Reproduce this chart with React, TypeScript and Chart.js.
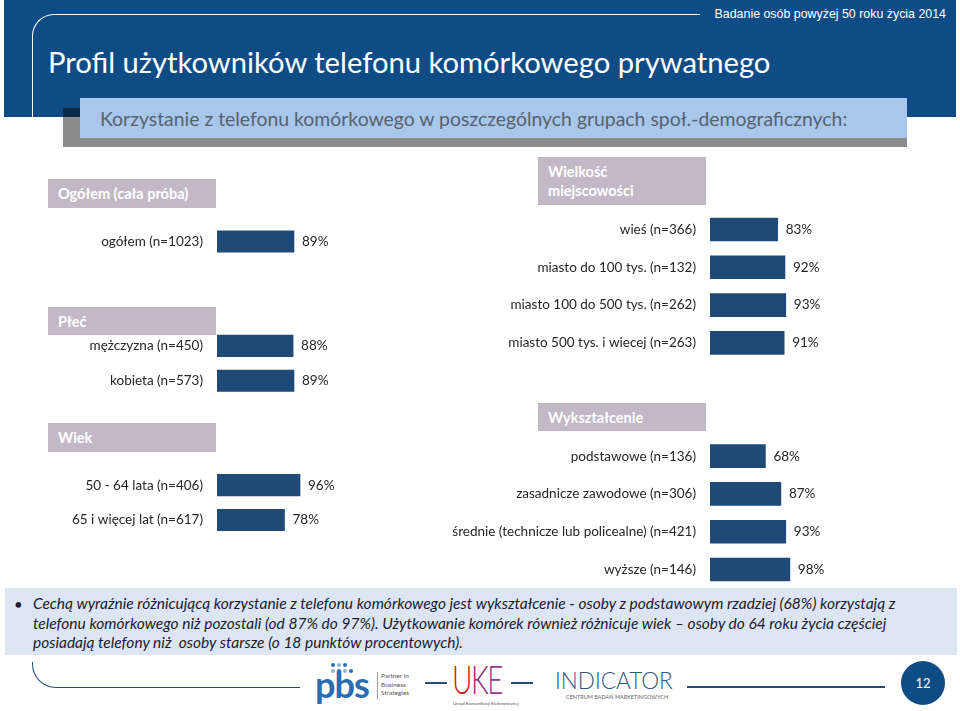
import React, { useEffect, useRef } from 'react';
import { Chart, registerables } from 'chart.js';

Chart.register(...registerables);

// ---- data ----
const totalLabels = ['ogółem (n=1023)'];
const totalValues = [89];
const genderLabels = ['mężczyzna (n=450)', 'kobieta (n=573)'];
const genderValues = [88, 89];
const ageLabels = ['50 - 64 lata (n=406)', '65 i więcej lat (n=617)'];
const ageValues = [96, 78];
const townLabels = [
  'wieś (n=366)',
  'miasto do 100 tys. (n=132)',
  'miasto 100 do 500 tys. (n=262)',
  'miasto 500 tys. i wiecej (n=263)',
];
const townValues = [83, 92, 93, 91];
const eduLabels = [
  'podstawowe (n=136)',
  'zasadnicze zawodowe (n=306)',
  'średnie (technicze lub policealne) (n=421)',
  'wyższe (n=146)',
];
const eduValues = [68, 87, 93, 98];
const axisMin = 0;
const axisMax = 100;

// ---- styles ----
const BAR = '#1f4a78';
const GRAY = '#c1bac6';
const HEAD_BLUE = '#0f4c86';
const LINE_BLUE = '#1f4e79';
const FONT = 'Lato, "Open Sans", sans-serif';

function withGaps(groups: [string[], number[]][], gap: number) {
  const labels: string[] = [];
  const values: (number | null)[] = [];
  groups.forEach(([l, v], gi) => {
    if (gi > 0) for (let k = 0; k < gap; k++) { labels.push(''); values.push(null); }
    l.forEach((t, i) => { labels.push(t); values.push(v[i]); });
  });
  return { labels, values };
}

const leftTable = withGaps([[totalLabels, totalValues], [genderLabels, genderValues], [ageLabels, ageValues]], 2);
const rightTable = withGaps([[townLabels, townValues], [eduLabels, eduValues]], 2);

const labelPlugin = {
  id: 'barLabels',
  afterDatasetsDraw(chart: any, _args: any, opts: any) {
    const ctx = chart.ctx;
    const meta = chart.getDatasetMeta(0);
    const yScale = chart.scales.y;
    const data = chart.data.datasets[0].data;
    ctx.save();
    ctx.font = opts.font;
    ctx.fillStyle = opts.color;
    ctx.textBaseline = 'middle';
    (chart.data.labels as string[]).forEach((lab, i) => {
      if (!lab) return;
      const y = yScale.getPixelForValue(i);
      ctx.textAlign = 'right';
      ctx.fillText(lab, chart.chartArea.left - opts.gap, y);
    });
    meta.data.forEach((el: any, i: number) => {
      const v = data[i];
      if (v == null) return;
      ctx.textAlign = 'left';
      ctx.fillText(v + '%', el.x + opts.valueGap, el.y);
    });
    ctx.restore();
  },
};

type GroupProps = {
  labels: string[];
  values: (number | null)[];
  left: number;
  top: number;
  width: number;
  height: number;
  pad: { left: number; right: number; top: number; bottom: number };
  thickness: number;
};

function BarGroup({ labels, values, left, top, width, height, pad, thickness }: GroupProps) {
  const ref = useRef<HTMLCanvasElement>(null);
  useEffect(() => {
    const chart = new Chart(ref.current as HTMLCanvasElement, {
      type: 'bar',
      data: {
        labels,
        datasets: [{ data: values as any, backgroundColor: BAR, barThickness: thickness, borderWidth: 0 }],
      },
      options: {
        indexAxis: 'y',
        animation: false,
        responsive: false,
        devicePixelRatio: 1,
        events: [],
        layout: { padding: pad },
        plugins: {
          legend: { display: false },
          tooltip: { enabled: false },
          barLabels: { font: `13.5px ${FONT}`, color: '#262626', gap: 14, valueGap: 8 },
        } as any,
        scales: {
          x: { display: false, min: axisMin, max: axisMax },
          y: { display: false },
        },
      },
      plugins: [labelPlugin],
    });
    return () => chart.destroy();
  }, []);
  return <canvas ref={ref} width={width} height={height} style={{ position: 'absolute', left, top }} />;
}

function GrayBox({ left, top, width, height, children }: any) {
  return (
    <div
      style={{
        position: 'absolute', left, top, width, height, background: GRAY, color: '#fff',
        font: `bold 14.5px ${FONT}`, padding: '0 10px', boxSizing: 'border-box',
        display: 'flex', alignItems: 'center', lineHeight: '19px',
      }}
    >
      <div>{children}</div>
    </div>
  );
}

const abs = (s: any): any => ({ position: 'absolute', ...s });

export default function App() {
  return (
    <div style={{ position: 'absolute', left: 0, top: 0, width: 960, height: 711, overflow: 'hidden', background: '#fff', fontFamily: FONT }}>
      {/* header */}
      <div style={abs({ left: 4, top: 0, width: 952, height: 117, background: HEAD_BLUE })} />
      <div style={abs({ left: 32, top: 14, width: 668, height: 103, borderTop: '1.5px solid #fff', borderLeft: '1.5px solid #fff', borderTopLeftRadius: 22, boxSizing: 'border-box' })} />
      <div style={abs({ left: 700, top: 5, width: 246, textAlign: 'right', color: '#fff', font: '12.4px "Liberation Sans", Arial, sans-serif', lineHeight: '18px', whiteSpace: 'nowrap' })}>
        Badanie osób powyżej 50 roku życia 2014
      </div>
      <div style={abs({ left: 48, top: 44, color: '#fff', font: `29.2px ${FONT}`, lineHeight: '36px', whiteSpace: 'nowrap' })}>
        Profil użytkowników telefonu komórkowego prywatnego
      </div>
      <div style={abs({ left: 63, top: 108, width: 844, height: 39, background: 'rgba(0,0,0,0.45)' })} />
      <div style={abs({ left: 80, top: 98, width: 827, height: 40, background: '#a8c7eb', display: 'flex', alignItems: 'center', paddingLeft: 20, boxSizing: 'border-box', color: '#56636f', font: `19.4px ${FONT}`, whiteSpace: 'nowrap' })}>
        Korzystanie z telefonu komórkowego w poszczególnych grupach społ.-demograficznych:
      </div>

      {/* charts */}
      <BarGroup
        labels={leftTable.labels}
        values={leftTable.values}
        left={0}
        top={200}
        width={400}
        height={360}
        pad={{ left: 217, right: 96.5, top: 24.1, bottom: 22.6 }}
        thickness={21.5}
      />
      <BarGroup
        labels={rightTable.labels}
        values={rightTable.values}
        left={400}
        top={200}
        width={560}
        height={400}
        pad={{ left: 310, right: 168.5, top: 10.6, bottom: 11.6 }}
        thickness={23}
      />

      {/* section headers */}
      <GrayBox left={48} top={179} width={168} height={29}>Ogółem (cała próba)</GrayBox>
      <GrayBox left={48} top={307} width={168} height={28}>Płeć</GrayBox>
      <GrayBox left={48} top={423} width={168} height={29}>Wiek</GrayBox>
      <GrayBox left={538} top={157} width={168} height={48}>Wielkość<br />miejscowości</GrayBox>
      <GrayBox left={538} top={403} width={168} height={28}>Wykształcenie</GrayBox>

      {/* summary */}
      <div style={abs({ left: 5, top: 588, width: 952, height: 67, background: '#dce6f2' })} />
      <div style={abs({ left: 14, top: 594, color: '#1a1a33', font: `15px ${FONT}`, lineHeight: '20px' })}>•</div>
      <div style={abs({ left: 33, top: 594, color: '#1a1a33', font: `italic 15.5px ${FONT}`, lineHeight: '19.7px', whiteSpace: 'pre' })}>
        {'Cechą wyraźnie różnicującą korzystanie z telefonu komórkowego jest wykształcenie - osoby z podstawowym rzadziej (68%) korzystają z\n' +
          'telefonu komórkowego niż pozostali (od 87% do 97%). Użytkowanie komórek również różnicuje wiek – osoby do 64 roku życia częściej\n' +
          'posiadają telefony niż  osoby starsze (o 18 punktów procentowych).'}
      </div>

      {/* footer lines */}
      <div style={abs({ left: 32, top: 662, width: 268, height: 26, borderLeft: `1.5px solid ${LINE_BLUE}`, borderBottom: `1.5px solid ${LINE_BLUE}`, borderBottomLeftRadius: 24, boxSizing: 'border-box' })} />
      <div style={abs({ left: 425, top: 682, width: 22, height: 1.5, background: LINE_BLUE })} />
      <div style={abs({ left: 511, top: 682, width: 22, height: 1.5, background: LINE_BLUE })} />
      <div style={abs({ left: 687, top: 686, width: 198, height: 1.5, background: LINE_BLUE })} />

      {/* pbs logo */}
      {[[331, 663], [337, 663], [343, 663], [331, 669], [337, 669], [343, 669], [349, 669]].map(([x, y], i) => (
        <div key={i} style={abs({ left: x, top: y, width: 4, height: 4, borderRadius: 2, background: i % 2 ? '#8db4dc' : '#2a6db5' })} />
      ))}
      <div style={abs({ left: 315, top: 664, color: '#2a6db5', font: `bold 36px ${FONT}`, lineHeight: '40px', letterSpacing: -1 })}>pbs</div>
      <div style={abs({ left: 377, top: 672, width: 1, height: 27, background: '#999' })} />
      <div style={abs({ left: 381, top: 672, color: '#555', font: `6.5px ${FONT}`, lineHeight: '8.5px' })}>Partner in<br />Business<br />Strategies</div>

      {/* UKE logo */}
      <div style={abs({ left: 452, top: 658, font: `300 40px ${FONT}`, lineHeight: '42px', letterSpacing: -2, transform: 'scaleX(0.7)', transformOrigin: '0 0', whiteSpace: 'nowrap' })}>
        <span style={{ color: '#c8202c' }}>U</span>
        <span style={{ color: '#8c2a70' }}>K</span>
        <span style={{ color: '#9a3b8c' }}>E</span>
      </div>
      <div style={abs({ left: 453, top: 701, color: '#555', font: `4.5px ${FONT}`, whiteSpace: 'nowrap' })}>Urząd Komunikacji Elektronicznej</div>

      {/* INDICATOR logo */}
      <div style={abs({ left: 555, top: 668, color: '#34577f', font: `300 22.5px ${FONT}`, lineHeight: '26px', whiteSpace: 'nowrap' })}>INDICATOR</div>
      <div style={abs({ left: 566, top: 694, color: '#666', font: `5.5px ${FONT}`, whiteSpace: 'nowrap' })}>CENTRUM BADAŃ MARKETINGOWYCH</div>

      {/* page number */}
      <div style={abs({ left: 901, top: 661, width: 44, height: 44, borderRadius: 22, background: HEAD_BLUE, color: '#fff', font: `13px ${FONT}`, display: 'flex', alignItems: 'center', justifyContent: 'center' })}>12</div>
    </div>
  );
}
